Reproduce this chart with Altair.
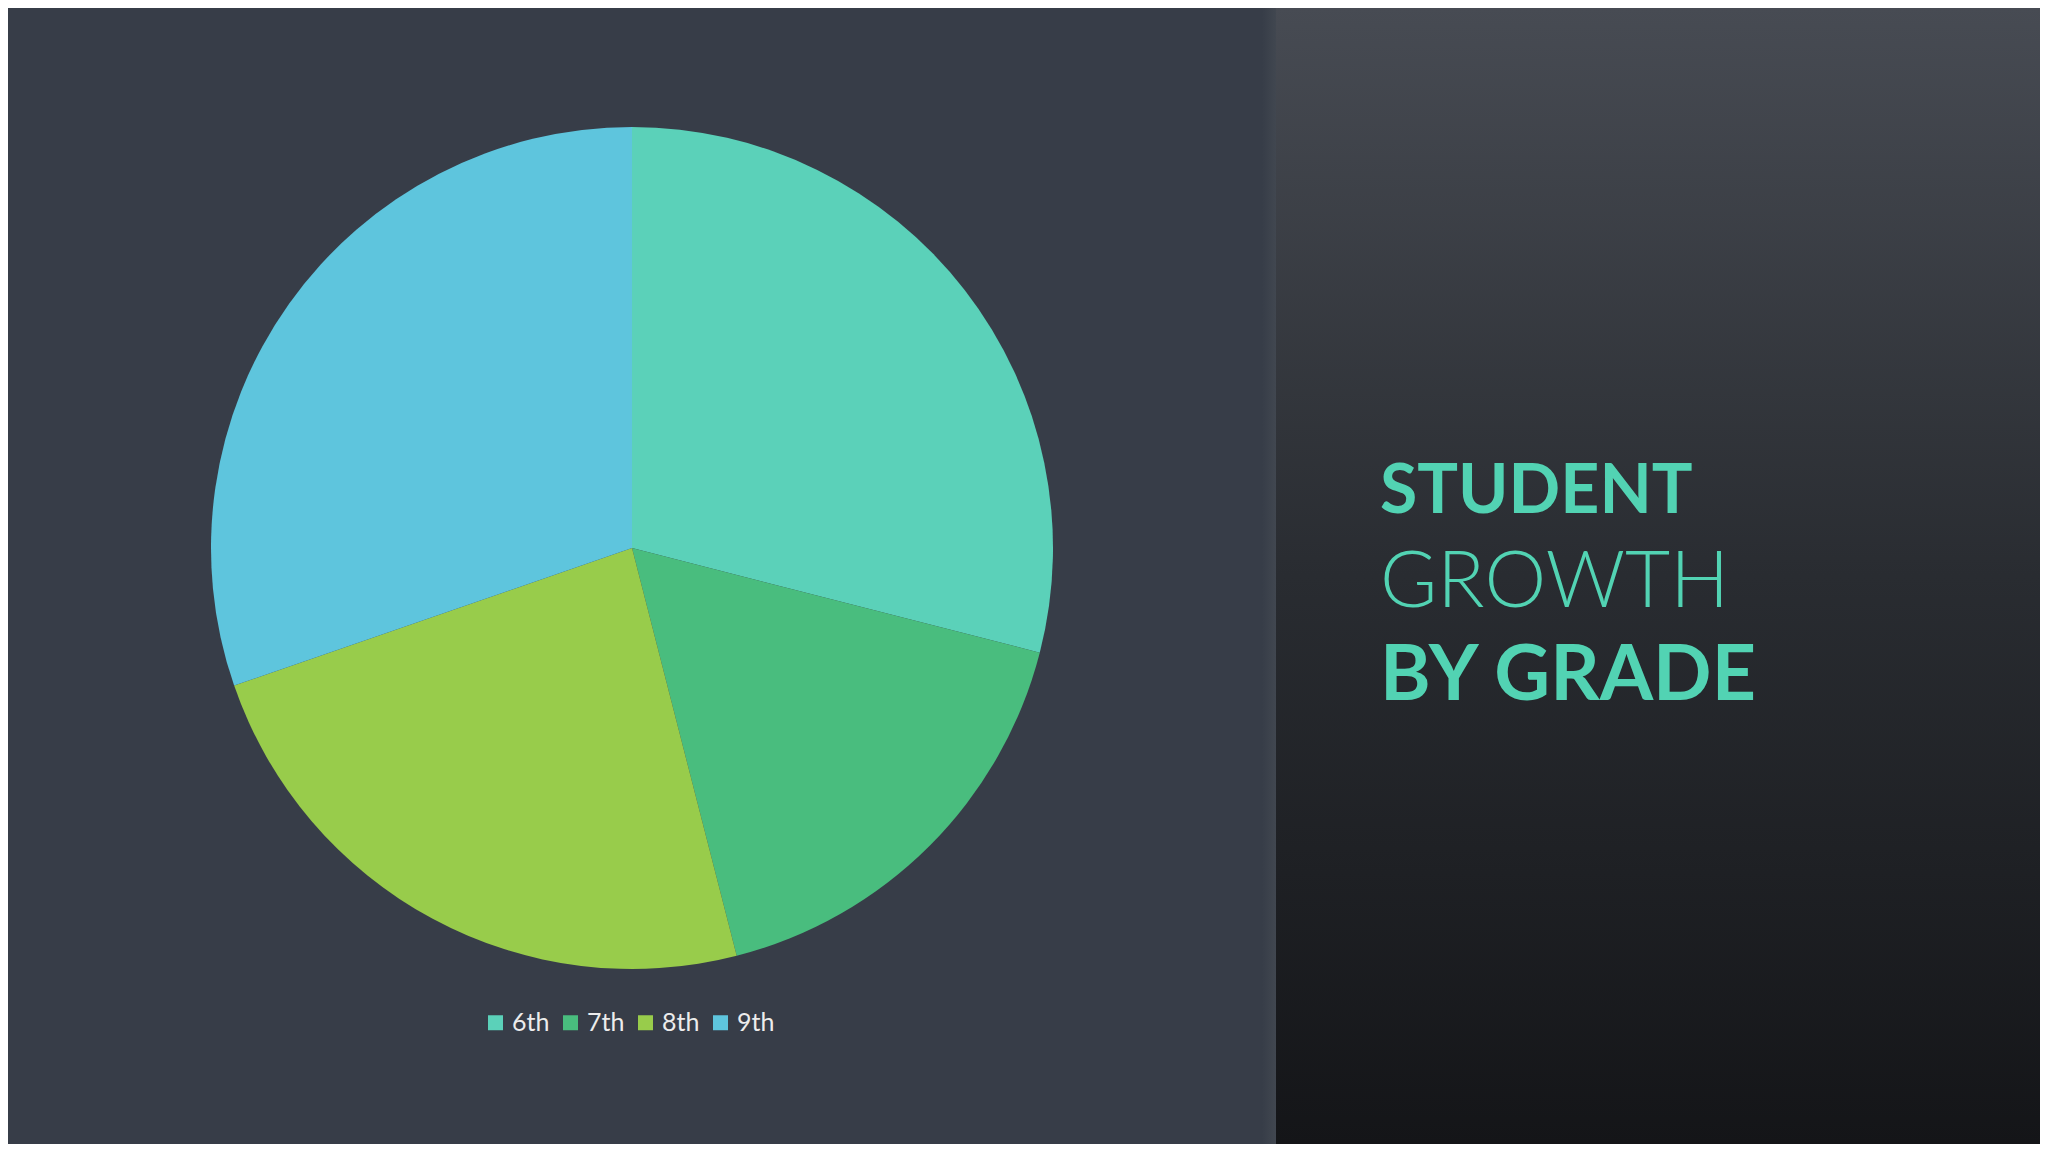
import altair as alt
import pandas as pd

# ---- data ----
GRADES = ["6th", "7th", "8th", "9th"]
VALUES = [29, 17, 23.7, 30.3]
COLORS = ["#5BD1B9", "#49BD7E", "#98CC4B", "#5EC5DD"]
TITLE_LINES = ["STUDENT", "GROWTH", "BY GRADE"]

W, H = 2032, 1136
BG = "#373D48"
TEAL = "#52D3B3"

pie_df = pd.DataFrame({"grade": GRADES, "value": VALUES, "order": list(range(len(GRADES)))})
one = pd.DataFrame({"k": [0]})

# right textured panel (gradient)
panel = alt.Chart(one).mark_rect(
    color=alt.Gradient(
        gradient="linear",
        stops=[alt.GradientStop(offset=0, color="#474b53"),
               alt.GradientStop(offset=0.5, color="#292c31"),
               alt.GradientStop(offset=1, color="#141518")],
        x1=0, x2=0, y1=0, y2=1,
    )
).encode(x=alt.value(1268), x2=alt.value(W), y=alt.value(0), y2=alt.value(H))

edge = alt.Chart(one).mark_rect(
    color=alt.Gradient(
        gradient="linear",
        stops=[alt.GradientStop(offset=0, color=BG),
               alt.GradientStop(offset=1, color="#414750")],
        x1=0, x2=1, y1=0, y2=0,
    )
).encode(x=alt.value(1254), x2=alt.value(1268), y=alt.value(0), y2=alt.value(H))

pie = alt.Chart(pie_df).mark_arc(radius=421, stroke=None).encode(
    theta=alt.Theta("value:Q", stack=True),
    order=alt.Order("order:Q"),
    color=alt.Color(
        "grade:N",
        scale=alt.Scale(domain=GRADES, range=COLORS),
        legend=alt.Legend(
            orient="none", legendX=475, legendY=1002, direction="horizontal",
            title=None, symbolType="square", symbolSize=225, symbolStrokeWidth=0,
            labelFont="Lato", labelFontSize=25, labelColor="#ececec",
            labelOffset=4, columnPadding=8, padding=0,
        ),
    ),
    x=alt.value(624),
    y=alt.value(540),
)

t1 = alt.Chart(one).mark_text(
    align="left", baseline="alphabetic", font="Lato", fontSize=68,
    fontWeight="bold", color=TEAL
).encode(x=alt.value(1372), y=alt.value(505), text=alt.value(TITLE_LINES[0]))

t2 = alt.Chart(one).mark_text(
    align="left", baseline="alphabetic", font="Lato", fontSize=78,
    fontWeight=300, color=TEAL
).encode(x=alt.value(1372), y=alt.value(599), text=alt.value(TITLE_LINES[1]))

t3 = alt.Chart(one).mark_text(
    align="left", baseline="alphabetic", font="Lato", fontSize=77,
    fontWeight="bold", color=TEAL
).encode(x=alt.value(1372), y=alt.value(692), text=alt.value(TITLE_LINES[2]))

chart = alt.layer(edge, panel, pie, t1, t2, t3).properties(
    width=W, height=H, padding=0, background=BG,
    autosize=alt.AutoSizeParams(type="none"),
).configure_view(stroke=None)

chart.save("out.html", embed_options={"renderer": "svg", "actions": False})
